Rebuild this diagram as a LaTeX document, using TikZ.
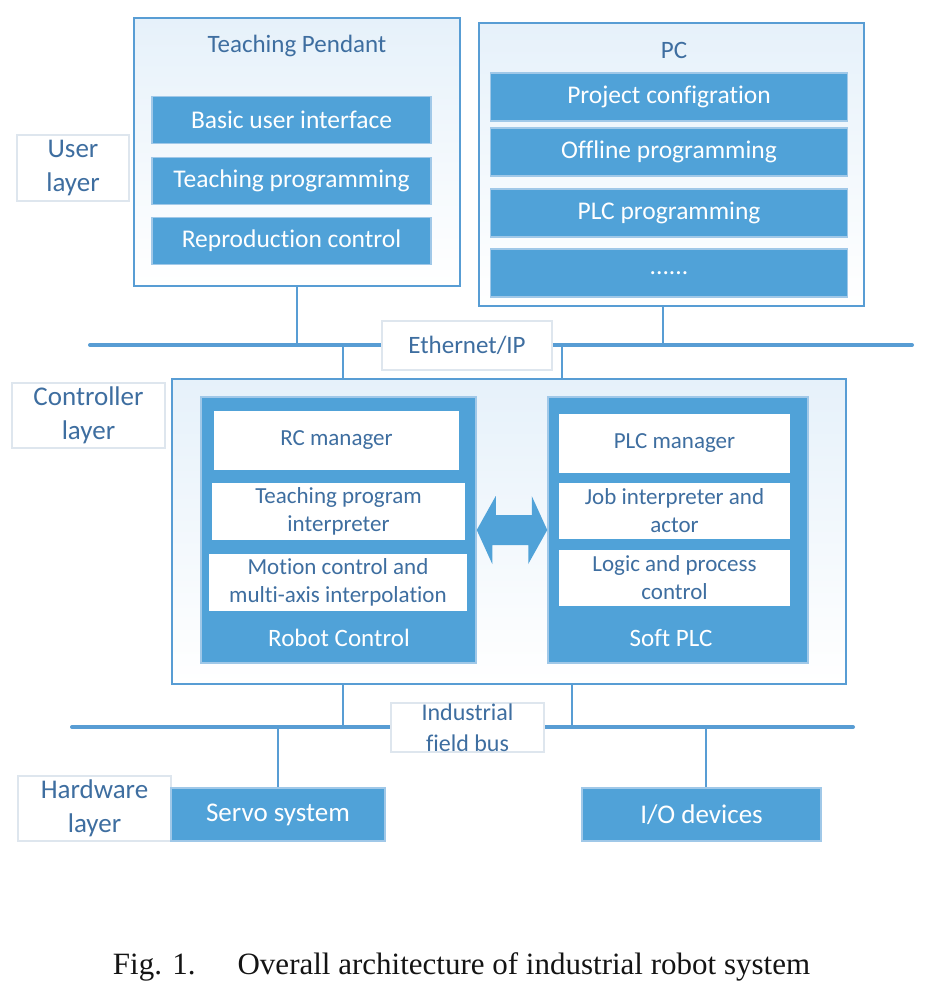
\documentclass[tikz,border=0pt]{standalone}
\usepackage{fontspec}
\setmainfont{Carlito}[Ligatures=NoCommon]
\newfontfamily\capfont{Liberation Serif}
\definecolor{lineblue}{RGB}{88,157,212}
\definecolor{fillblue}{RGB}{80,162,216}
\definecolor{edgeblue}{RGB}{160,200,232}
\definecolor{textblue}{RGB}{62,110,160}
\definecolor{shadecol}{RGB}{230,241,250}
\definecolor{labelgray}{RGB}{222,230,238}
\definecolor{captext}{RGB}{20,20,20}
\tikzset{
  outerbox/.style={draw=lineblue, line width=1.5pt, top color=shadecol, bottom color=white, inner sep=0pt},
  bbox/.style={fill=fillblue, draw=edgeblue, line width=1.5pt, text=white, font=\fontsize{25.5}{30}\selectfont, inner sep=0pt, align=center},
  hbox/.style={bbox, font=\fontsize{27}{32}\selectfont},
  wbox/.style={fill=white, draw=fillblue, line width=1.2pt, text=textblue, font=\fontsize{23}{28}\selectfont, align=center, inner sep=0pt},
  lbl/.style={draw=labelgray, line width=1.2pt, fill=white, text=textblue, font=\fontsize{27}{34}\selectfont, align=center, inner sep=0pt},
  ttl/.style={text=textblue, font=\fontsize{25}{30}\selectfont, inner sep=0pt},
  wlbl/.style={text=white, font=\fontsize{25}{30}\selectfont, inner sep=0pt},
  bus/.style={draw=lineblue, line width=4pt, line cap=round},
  conn/.style={draw=lineblue, line width=2pt},
}
\begin{document}
\begin{tikzpicture}[x=1pt, y=-1pt]
\useasboundingbox (0,0) rectangle (931,1000);
% buses
\coordinate (ebusL) at (90,345);
\coordinate (ebusR) at (912,345);
\coordinate (fbusL) at (72,727);
\coordinate (fbusR) at (853,727);
\draw[bus] (ebusL) -- (ebusR);
\draw[bus] (fbusL) -- (fbusR);

% Teaching pendant
\node[outerbox, minimum width=326pt, minimum height=268pt] (tp) at (297,152) {};
\node[ttl] (tpt) at (297,46) {Teaching Pendant};
\node[bbox, minimum width=279pt, minimum height=47pt] (tp1) at (291.5,120) {Basic user interface};
\node[bbox, minimum width=279pt, minimum height=47pt] (tp2) at (291.5,181) {Teaching programming};
\node[bbox, minimum width=279pt, minimum height=47pt] (tp3) at (291.5,241) {Reproduction control};

% PC
\node[outerbox, minimum width=385pt, minimum height=283pt] (pc) at (671.5,164.5) {};
\node[ttl] (pct) at (674,50) {PC};
\node[bbox, minimum width=357pt, minimum height=48pt] (pc1) at (669,97) {Project configration};
\node[bbox, minimum width=357pt, minimum height=48pt] (pc2) at (669,152) {Offline programming};
\node[bbox, minimum width=357pt, minimum height=48pt] (pc3) at (669,213) {PLC programming};
\node[bbox, minimum width=357pt, minimum height=48pt] (pc4) at (669,273) {......};

% connectors to ethernet
\draw[conn] (tp.south) -- (tp.south |- ebusL);
\draw[conn] ([xshift=-8.5pt]pc.south) -- ([xshift=-8.5pt]pc.south |- ebusL);

% layer labels
\node[lbl, minimum width=112pt, minimum height=66pt] (ul) at (73,168) {User\\layer};
\node[lbl, minimum width=153pt, minimum height=65pt] (cl) at (88.5,415.5) {Controller\\layer};

% Controller
\node[outerbox, minimum width=674pt, minimum height=305pt] (ctrl) at (509,531.5) {};
\coordinate (e1) at (343,345);
\coordinate (e2) at (562,345);
\draw[conn] (e1) -- (e1 |- ctrl.north);
\draw[conn] (e2) -- (e2 |- ctrl.north);
\node[lbl, font=\fontsize{25}{30}\selectfont, minimum width=170pt, minimum height=49pt] (eth) at (467,345.5) {Ethernet/IP};

\node[bbox, minimum width=275pt, minimum height=266pt] (rctl) at (338.5,530) {};
\node[wbox, minimum width=247pt, minimum height=61pt] (rc1) at (336.5,440.5) {RC manager};
\node[wbox, minimum width=255pt, minimum height=59pt] (rc2) at (338.5,511.5) {Teaching program\\interpreter};
\node[wbox, minimum width=260pt, minimum height=59pt] (rc3) at (338,582.5) {Motion control and\\multi-axis interpolation};
\node[wlbl] (rcl) at (339,638) {Robot Control};

\node[bbox, minimum width=260pt, minimum height=266pt] (splc) at (678,530) {};
\node[wbox, minimum width=233pt, minimum height=61pt] (plc1) at (674.5,443.5) {PLC manager};
\node[wbox, minimum width=233pt, minimum height=58pt] (plc2) at (674.5,511) {Job interpreter and\\actor};
\node[wbox, minimum width=233pt, minimum height=58pt] (plc3) at (674.5,578) {Logic and process\\control};
\node[wlbl] (splcl) at (671,638) {Soft PLC};

% double arrow
\fill[fillblue] (rctl.east) -- ++(19,-34) -- ++(0,19) -- ++(36,0) -- ++(0,-19) -- (splc.west)
  -- ++(-19,34) -- ++(0,-19) -- ++(-36,0) -- ++(0,19) -- cycle;

% field bus connectors
\coordinate (f1) at (343,727);
\coordinate (f2) at (572,727);
\draw[conn] (ctrl.south -| f1) -- (f1);
\draw[conn] (ctrl.south -| f2) -- (f2);
\node[lbl, font=\fontsize{24}{31}\selectfont, minimum width=153pt, minimum height=49pt] (fb) at (467.5,727.5) {Industrial\\field bus};

% hardware layer
\node[lbl, minimum width=153pt, minimum height=65pt] (hl) at (94.5,808.5) {Hardware\\layer};
\node[hbox, minimum width=214pt, minimum height=53pt] (servo) at (278,814.5) {Servo system};
\node[hbox, minimum width=239pt, minimum height=53pt] (io) at (701.5,814.5) {I/O devices};
\coordinate (f3) at (706,727);
\draw[conn] (servo.north |- fbusL) -- (servo.north);
\draw[conn] (f3) -- (f3 |- io.north);

% caption
\node[font=\capfont\fontsize{31}{36}\selectfont, text=captext, inner sep=0pt] (cap) at (461.5,967) {Fig. 1.\hspace{42pt}Overall architecture of industrial robot system};
\end{tikzpicture}
\end{document}
